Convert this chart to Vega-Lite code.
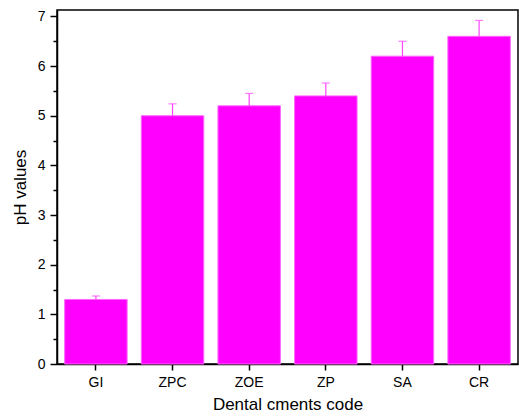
{
  "$schema": "https://vega.github.io/schema/vega-lite/v6.json",
  "width": 461,
  "height": 354,
  "autosize": {"type": "none"},
  "padding": {"left": 57, "top": 10, "right": 1, "bottom": 54},
  "background": "white",
  "config": {
    "font": "Liberation Sans",
    "view": {"stroke": "black", "strokeWidth": 1.5},
    "axis": {
      "domainColor": "black",
      "domainWidth": 1.5,
      "tickColor": "black",
      "tickWidth": 1.5,
      "labelColor": "black",
      "titleColor": "black",
      "labelFont": "Liberation Sans",
      "titleFont": "Liberation Sans",
      "labelFontSize": 14,
      "titleFontSize": 17,
      "titleFontWeight": "normal",
      "grid": false
    }
  },
  "data": {
    "values": [
      {"code": "GI", "ph": 1.3, "upper": 1.37},
      {"code": "ZPC", "ph": 5.0, "upper": 5.24},
      {"code": "ZOE", "ph": 5.2, "upper": 5.45},
      {"code": "ZP", "ph": 5.4, "upper": 5.66},
      {"code": "SA", "ph": 6.2, "upper": 6.5},
      {"code": "CR", "ph": 6.6, "upper": 6.92}
    ]
  },
  "encoding": {
    "x": {
      "field": "code",
      "type": "nominal",
      "sort": null,
      "scale": {"paddingInner": 0.185, "paddingOuter": 0.1},
      "axis": {
        "title": "Dental cments code",
        "labelAngle": 0,
        "tickSize": 6,
        "labelPadding": 5,
        "titlePadding": 7
      }
    }
  },
  "layer": [
    {
      "mark": {"type": "bar", "color": "#FF00FF", "stroke": "#FF66FF", "strokeWidth": 1},
      "encoding": {
        "y": {
          "field": "ph",
          "type": "quantitative",
          "scale": {"domain": [0, 7.13], "nice": false},
          "axis": {
            "title": "pH values",
            "values": [0, 1, 2, 3, 4, 5, 6, 7],
            "tickSize": 7,
            "labelPadding": 5,
            "titlePadding": 8
          }
        }
      }
    },
    {
      "mark": {"type": "rule", "color": "#FF44FF", "strokeWidth": 1.2},
      "encoding": {
        "y": {
          "field": "ph",
          "type": "quantitative",
          "axis": {
            "orient": "left",
            "title": null,
            "values": [0.5, 1.5, 2.5, 3.5, 4.5, 5.5, 6.5],
            "labels": false,
            "domain": false,
            "tickSize": 4
          }
        },
        "y2": {"field": "upper"}
      }
    },
    {
      "mark": {"type": "tick", "color": "#FF44FF", "thickness": 1.2, "size": 8, "orient": "horizontal"},
      "encoding": {
        "y": {"field": "upper", "type": "quantitative", "axis": null}
      }
    }
  ],
  "resolve": {"axis": {"y": "independent"}}
}
